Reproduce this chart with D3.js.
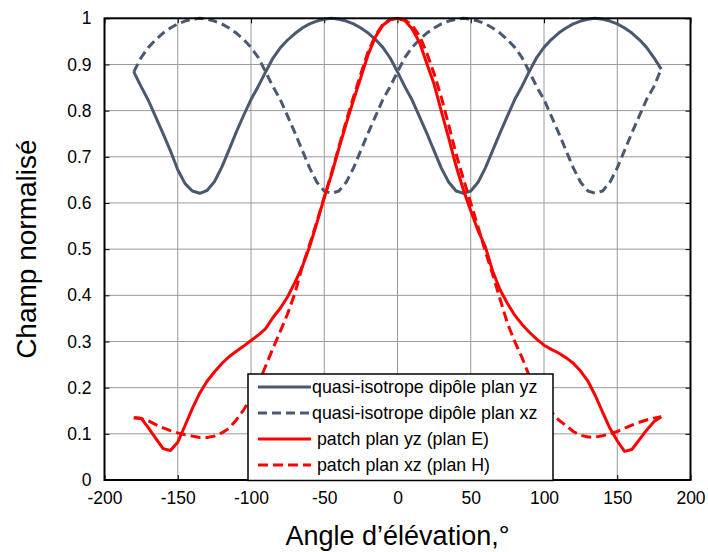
<!DOCTYPE html>
<html>
<head>
<meta charset="utf-8">
<script src="https://cdn.jsdelivr.net/npm/d3@7"></script>
<style>
  html, body { margin: 0; padding: 0; background: #fff; }
  svg text { font-family: "Liberation Sans", Arial, sans-serif; }
</style>
</head>
<body>
<svg id="chart" width="708" height="552"></svg>
<script>
// ---- data ----
const angles = [-180,-175,-170,-165,-160,-155,-150,-145,-140,-135,-130,-125,-120,-115,-110,-105,-100,-95,-90,-85,-80,-75,-70,-65,-60,-55,-50,-45,-40,-35,-30,-25,-20,-15,-10,-5,0,5,10,15,20,25,30,35,40,45,50,55,60,65,70,75,80,85,90,95,100,105,110,115,120,125,130,135,140,145,150,155,160,165,170,175,180];

const dipoleYZ = [0.884,0.852,0.822,0.786,0.750,0.713,0.672,0.642,0.626,0.621,0.627,0.646,0.677,0.715,0.754,0.790,0.824,0.853,0.884,0.914,0.936,0.953,0.967,0.979,0.988,0.994,0.998,1.000,0.998,0.994,0.988,0.979,0.968,0.954,0.937,0.914,0.884,0.852,0.823,0.787,0.751,0.713,0.675,0.645,0.626,0.621,0.626,0.645,0.676,0.714,0.752,0.788,0.824,0.853,0.885,0.915,0.937,0.954,0.968,0.979,0.988,0.994,0.998,1.000,0.998,0.994,0.988,0.979,0.968,0.954,0.937,0.915,0.890];

const dipoleXZ = [0.884,0.915,0.937,0.954,0.968,0.979,0.988,0.994,0.998,1.000,0.998,0.994,0.988,0.979,0.968,0.954,0.937,0.915,0.884,0.852,0.824,0.788,0.752,0.714,0.676,0.645,0.626,0.621,0.626,0.645,0.676,0.714,0.752,0.788,0.824,0.852,0.884,0.915,0.937,0.954,0.968,0.979,0.988,0.994,0.998,1.000,0.998,0.994,0.988,0.979,0.968,0.954,0.937,0.915,0.884,0.852,0.824,0.788,0.752,0.714,0.676,0.645,0.626,0.621,0.626,0.645,0.676,0.714,0.752,0.788,0.824,0.852,0.890];

const patchYZ = [0.135,0.134,0.113,0.090,0.068,0.064,0.082,0.118,0.155,0.188,0.214,0.234,0.252,0.267,0.279,0.290,0.302,0.314,0.328,0.352,0.372,0.397,0.428,0.462,0.505,0.557,0.612,0.662,0.718,0.772,0.823,0.872,0.922,0.960,0.985,0.997,1.000,0.995,0.977,0.948,0.902,0.857,0.798,0.740,0.680,0.628,0.583,0.540,0.505,0.452,0.412,0.383,0.357,0.337,0.320,0.305,0.292,0.283,0.275,0.265,0.253,0.236,0.214,0.183,0.147,0.112,0.085,0.062,0.066,0.087,0.108,0.126,0.137];

const patchXZ = [0.135,0.133,0.128,0.120,0.113,0.107,0.102,0.098,0.095,0.092,0.092,0.095,0.102,0.112,0.130,0.152,0.178,0.208,0.247,0.285,0.322,0.360,0.405,0.462,0.510,0.560,0.612,0.665,0.722,0.778,0.830,0.880,0.928,0.963,0.987,0.998,1.000,0.997,0.985,0.962,0.925,0.880,0.828,0.768,0.706,0.652,0.600,0.548,0.495,0.445,0.392,0.340,0.300,0.265,0.225,0.192,0.170,0.148,0.130,0.118,0.105,0.097,0.093,0.093,0.096,0.100,0.105,0.112,0.119,0.125,0.130,0.134,0.137];

const xTicks = [-200,-150,-100,-50,0,50,100,150,200];
const yTicks = [0,0.1,0.2,0.3,0.4,0.5,0.6,0.7,0.8,0.9,1];
const seriesNames = ["quasi-isotrope dipôle plan yz","quasi-isotrope dipôle plan xz"," patch plan yz (plan E)"," patch plan xz (plan H)"];
const xTitle = "Angle d’élévation,°";
const yTitle = "Champ normalisé";

// ---- layout ----
const svg = d3.select("#chart");
const L = 104.5, R = 690.5, T = 18.3, B = 480;
const x = d3.scaleLinear().domain([-200,200]).range([L,R]);
const y = d3.scaleLinear().domain([0,1]).range([B,T]);

const grey = "#4a5870", red = "#ff0000";
const series = [
  {vals: dipoleYZ, color: grey, dash: null},
  {vals: dipoleXZ, color: grey, dash: "9,5"},
  {vals: patchYZ, color: red, dash: null},
  {vals: patchXZ, color: red, dash: "10,5"}
];

// grid
const grid = svg.append("g");
grid.selectAll("line.gx").data(xTicks.slice(1,-1)).enter().append("line")
  .attr("x1", d=>x(d)).attr("x2", d=>x(d)).attr("y1", T).attr("y2", B)
  .attr("stroke", "#999").attr("stroke-width", 1);
grid.selectAll("line.gy").data(yTicks.slice(1,-1)).enter().append("line")
  .attr("y1", d=>y(d)).attr("y2", d=>y(d)).attr("x1", L).attr("x2", R)
  .attr("stroke", "#999").attr("stroke-width", 1);

// axes
const fmtX = d => String(d);
const fmtY = d => d === 0 ? "0" : d === 1 ? "1" : d3.format(".1f")(d);
const xAxis = svg.append("g").attr("transform", `translate(0,${B})`)
  .call(d3.axisBottom(x).tickValues(xTicks).tickSize(-5).tickPadding(12).tickFormat(fmtX));
const xAxisTop = svg.append("g").attr("transform", `translate(0,${T})`)
  .call(d3.axisTop(x).tickValues(xTicks).tickSize(-5).tickFormat(""));
const yAxis = svg.append("g").attr("transform", `translate(${L},0)`)
  .call(d3.axisLeft(y).tickValues(yTicks).tickSize(-5).tickPadding(13).tickFormat(fmtY));
const yAxisR = svg.append("g").attr("transform", `translate(${R},0)`)
  .call(d3.axisRight(y).tickValues(yTicks).tickSize(-5).tickFormat(""));
[xAxis, xAxisTop, yAxis, yAxisR].forEach(g => {
  g.select(".domain").remove();
  g.selectAll("line").attr("stroke", "#000").attr("stroke-width", 1);
  g.selectAll("text").attr("font-size", 17.5).attr("fill", "#000");
});

// lines
const line = d3.line().x((d,i)=>x(angles[i])).y(d=>y(d));
const plot = svg.append("g");
series.forEach(s => {
  plot.append("path").datum(s.vals)
    .attr("d", line).attr("fill", "none")
    .attr("stroke", s.color).attr("stroke-width", 3)
    .attr("stroke-linejoin", "round")
    .attr("stroke-dasharray", s.dash);
});

// frame
svg.append("rect").attr("x", L).attr("y", T).attr("width", R-L).attr("height", B-T)
  .attr("fill", "none").attr("stroke", "#000").attr("stroke-width", 2);

// legend
const lg = svg.append("g");
lg.append("rect").attr("x", 248).attr("y", 374).attr("width", 305).attr("height", 106.5)
  .attr("fill", "#fff").attr("stroke", "#000").attr("stroke-width", 1.5);
series.forEach((s,i) => {
  const yy = 387 + i*26;
  lg.append("line").attr("x1", 258).attr("x2", 311).attr("y1", yy).attr("y2", yy)
    .attr("stroke", s.color).attr("stroke-width", 3).attr("stroke-dasharray", s.dash);
  lg.append("text").attr("x", 312).attr("y", yy+6).attr("font-size", 17.8)
    .attr("fill", "#000").attr("xml:space", "preserve").style("white-space", "pre")
    .text(seriesNames[i]);
});

// titles
svg.append("text").attr("x", (L+R)/2).attr("y", 545).attr("text-anchor", "middle")
  .attr("font-size", 27).attr("fill", "#000").text(xTitle);
svg.append("text").attr("transform", `translate(36,${(T+B)/2}) rotate(-90)`)
  .attr("text-anchor", "middle").attr("font-size", 28).attr("fill", "#000").text(yTitle);
</script>
</body>
</html>
